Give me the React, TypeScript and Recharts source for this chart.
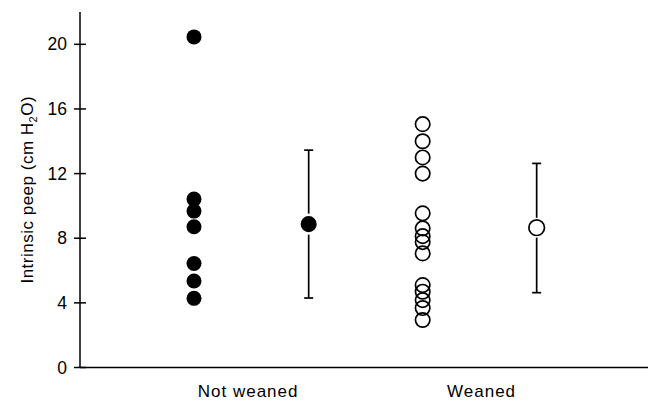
import React from "react";
import { ScatterChart, Scatter, XAxis, YAxis, ErrorBar, Label } from "recharts";

// ---- data ----
const groupLabels = ["Not weaned", "Weaned"];
const groupLabelPositions = [29.6, 70.7];
const individualPositions = [20.07, 60.33];
const meanPositions = [40.26, 80.4];

const notWeanedValues = [20.46, 10.42, 9.68, 8.71, 6.44, 5.35, 4.28];
const weanedValues = [15.06, 14.0, 13.0, 12.0, 9.54, 8.61, 8.13, 7.76, 7.06, 5.1, 4.69, 4.17, 3.68, 2.94];

const meanValues = [8.87, 8.65];
const rangeLow = [4.3, 4.63];
const rangeHigh = [13.45, 12.63];

const yTicks = [0, 4, 8, 12, 16, 20];

// ---- derived tables ----
const notWeanedData = notWeanedValues.map((v) => ({ x: individualPositions[0], y: v }));
const weanedData = weanedValues.map((v) => ({ x: individualPositions[1], y: v }));
const meanNotWeaned = [
  { x: meanPositions[0], y: meanValues[0], err: [meanValues[0] - rangeLow[0], rangeHigh[0] - meanValues[0]] },
];
const meanWeaned = [
  { x: meanPositions[1], y: meanValues[1], err: [meanValues[1] - rangeLow[1], rangeHigh[1] - meanValues[1]] },
];

const FONT = "'Liberation Sans', Arial, Helvetica, sans-serif";

const FilledDot = (props: any) => (
  <circle cx={props.cx} cy={props.cy} r={7.5} fill="#000" stroke="none" />
);
const OpenDot = (props: any) => (
  <circle cx={props.cx} cy={props.cy} r={7.2} fill="none" stroke="#000" strokeWidth={1.7} />
);
const FilledMean = (props: any) => (
  <circle cx={props.cx} cy={props.cy} r={9.3} fill="#000" stroke="#fff" strokeWidth={2.5} />
);
const OpenMean = (props: any) => (
  <g>
    <circle cx={props.cx} cy={props.cy} r={10} fill="#fff" stroke="none" />
    <circle cx={props.cx} cy={props.cy} r={7.8} fill="#fff" stroke="#000" strokeWidth={1.7} />
  </g>
);

const YTick = (props: any) => {
  const { x, y, payload } = props;
  return (
    <g>
      <line x1={x - 6} x2={x + 6} y1={y} y2={y} stroke="#000" strokeWidth={1.5} />
      <text x={x - 13} y={y + 6} textAnchor="end" fontSize={17.5} fontFamily={FONT} fill="#000">
        {payload.value}
      </text>
    </g>
  );
};

const XTick = (props: any) => {
  const { x, y, payload } = props;
  const idx = groupLabelPositions.indexOf(payload.value);
  return (
    <text x={x} y={y + 29.5} textAnchor="middle" fontSize={17} letterSpacing={1} fontFamily={FONT} fill="#000">
      {groupLabels[idx]}
    </text>
  );
};

const YLabel = (props: any) => {
  const vb = props.viewBox || { x: 0, y: 12, width: 80, height: 355.5 };
  const cx = vb.x + 33;
  const cy = vb.y + vb.height / 2;
  return (
    <text
      x={cx}
      y={cy}
      transform={`rotate(-90, ${cx}, ${cy})`}
      textAnchor="middle"
      fontSize={17}
      letterSpacing={0.5}
      fontFamily={FONT}
      fill="#000"
    >
      <tspan>Intrinsic peep (cm H</tspan>
      <tspan fontSize={11} dy={4}>2</tspan>
      <tspan dy={-4}>O)</tspan>
    </text>
  );
};

export default function App() {
  return (
    <div style={{ position: "absolute", left: 0, top: 0, width: 648, height: 401, background: "#fff" }}>
      <ScatterChart width={648} height={401} margin={{ top: 12, right: 0, bottom: 0, left: 0 }}>
        <XAxis
          type="number"
          dataKey="x"
          domain={[0, 100]}
          ticks={groupLabelPositions}
          tick={<XTick />}
          tickLine={false}
          tickSize={0}
          tickMargin={0}
          height={33.5}
          axisLine={{ stroke: "#000", strokeWidth: 1.5 }}
          interval={0}
          allowDataOverflow
        />
        <YAxis
          type="number"
          dataKey="y"
          domain={[0, 22]}
          ticks={yTicks}
          tick={<YTick />}
          tickLine={false}
          tickSize={0}
          tickMargin={0}
          width={80}
          axisLine={{ stroke: "#000", strokeWidth: 1.5 }}
          interval={0}
          allowDataOverflow
        >
          <Label content={<YLabel />} />
        </YAxis>
        <Scatter data={notWeanedData} shape={<FilledDot />} isAnimationActive={false} />
        <Scatter data={weanedData} shape={<OpenDot />} isAnimationActive={false} />
        <Scatter data={meanNotWeaned} shape={<FilledMean />} isAnimationActive={false}>
          <ErrorBar dataKey="err" direction="y" width={4.5} stroke="#000" strokeWidth={1.7} isAnimationActive={false} />
        </Scatter>
        <Scatter data={meanWeaned} shape={<OpenMean />} isAnimationActive={false}>
          <ErrorBar dataKey="err" direction="y" width={4.5} stroke="#000" strokeWidth={1.7} isAnimationActive={false} />
        </Scatter>
      </ScatterChart>
    </div>
  );
}
